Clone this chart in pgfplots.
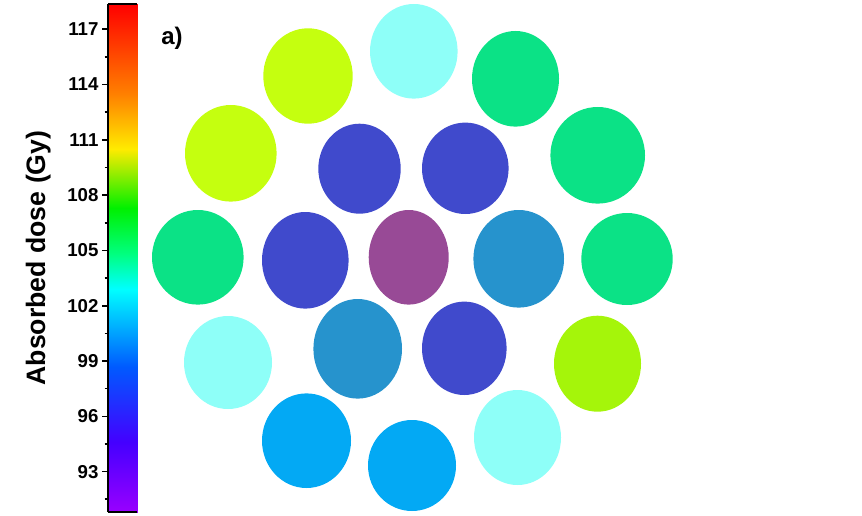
\documentclass[border=0pt]{standalone}
\usepackage{fontspec}
\setmainfont{Liberation Sans}
\usepackage{pgfplots}
\pgfplotsset{compat=1.18}
\definecolor{lc}{RGB}{142,255,248}
\definecolor{yg}{RGB}{197,255,15}
\definecolor{gr}{RGB}{11,226,134}
\definecolor{db}{RGB}{64,74,204}
\definecolor{pu}{RGB}{152,74,150}
\definecolor{sb}{RGB}{38,147,205}
\definecolor{sk}{RGB}{3,169,244}
\definecolor{lm}{RGB}{165,245,10}
\pgfdeclareplotmark{ell}{%
  \pgfpathellipse{\pgfpointorigin}{\pgfpoint{0.75pt*\rx}{0pt}}{\pgfpoint{0pt}{0.75pt*\ry}}%
  \pgfusepathqfill}
\pgfplotsset{
  ellplot/.style={only marks, mark=ell, color=#1, mark options={fill=#1, draw=none},
    visualization depends on={\thisrow{rx}\as\rx},
    visualization depends on={\thisrow{ry}\as\ry}},
}
\begin{document}
\begin{tikzpicture}
\useasboundingbox (0,0) rectangle (646.5pt,386.25pt);
\begin{axis}[
  at={(0pt,0pt)}, anchor=south west,
  width=646.5pt, height=386.25pt, scale only axis,
  xmin=0, xmax=862, ymin=0, ymax=515,
  hide axis, clip=false,
]
\addplot[ellplot=lc] table {
x y rx ry
413.8 463.7 43.8 47.3
228.0 152.5 44.0 46.5
517.5 77.5 43.5 47.5
};
\addplot[ellplot=yg] table {
x y rx ry
308.0 439.0 44.7 47.7
230.8 361.7 45.8 48.3
};
\addplot[ellplot=gr] table {
x y rx ry
197.8 257.7 45.8 47.3
627.0 256.0 45.7 46.0
597.7 359.7 47.3 48.3
515.5 436.2 43.5 47.8
};
\addplot[ellplot=sk] table {
x y rx ry
306.5 74.3 44.5 47.3
412.0 49.5 44.0 45.5
};
\addplot[ellplot=lm] table {
x y rx ry
597.5 151.3 43.5 48.0
};
\addplot[ellplot=db] table {
x y rx ry
359.5 346.3 41.2 45.0
465.3 346.7 43.3 45.7
305.3 254.7 43.3 48.3
464.3 166.7 42.3 46.7
};
\addplot[ellplot=pu] table {
x y rx ry
408.7 257.7 40.0 47.3
};
\addplot[ellplot=sb] table {
x y rx ry
518.7 256.2 45.3 48.8
357.7 166.2 44.3 49.8
};
\node[anchor=base west, inner sep=0pt, font=\bfseries\fontsize{18}{20}\selectfont] at (axis cs:161,470) {a)};
\end{axis}
% colour scale
\begin{axis}[
  at={(81pt,2.25pt)}, anchor=south west,
  width=21.75pt, height=381pt, scale only axis,
  xmin=0, xmax=1, ymin=90.81, ymax=118.37,
  colormap={dose}{rgb255(0.81pt)=(153,0,255) rgb255(4.6pt)=(68,0,255) rgb255(8.7pt)=(0,90,255) rgb255(12.9pt)=(0,255,255) rgb255(14.8pt)=(0,255,128) rgb255(17.3pt)=(0,240,0) rgb255(20.5pt)=(255,235,0) rgb255(23.5pt)=(255,128,0) rgb255(28.37pt)=(255,0,0)},
  point meta min=90.81, point meta max=118.37,
  axis x line*=box, axis y line*=left,
  axis line style={-, line width=1.4pt, black},
  xtick=\empty,
  ytick={93,96,...,117},
  minor ytick={91.5,94.5,...,118},
  tick align=outside,
  major tick length=4.5pt, minor tick length=2.5pt,
  tick style={black, line width=1.2pt},
  yticklabel pos=left,
  /pgf/number format/assume math mode=true,
  yticklabel style={font=\bfseries\fontsize{14}{16}\selectfont, inner sep=2.5pt},
  ylabel={Absorbed dose (Gy)},
  every axis y label/.style={at={(axis description cs:-2.1724,0.5)}, anchor=base, rotate=90, font=\bfseries\fontsize{20}{24}\selectfont},
  axis on top,
]
\addplot[patch, patch type=rectangle, shader=interp, point meta=\thisrow{y}] table {
x y
0 90.81
1 90.81
1 94.6
0 94.6
0 94.6
1 94.6
1 98.7
0 98.7
0 98.7
1 98.7
1 102.9
0 102.9
0 102.9
1 102.9
1 104.8
0 104.8
0 104.8
1 104.8
1 107.3
0 107.3
0 107.3
1 107.3
1 110.5
0 110.5
0 110.5
1 110.5
1 113.5
0 113.5
0 113.5
1 113.5
1 118.37
0 118.37
};
\end{axis}
\end{tikzpicture}
\end{document}
